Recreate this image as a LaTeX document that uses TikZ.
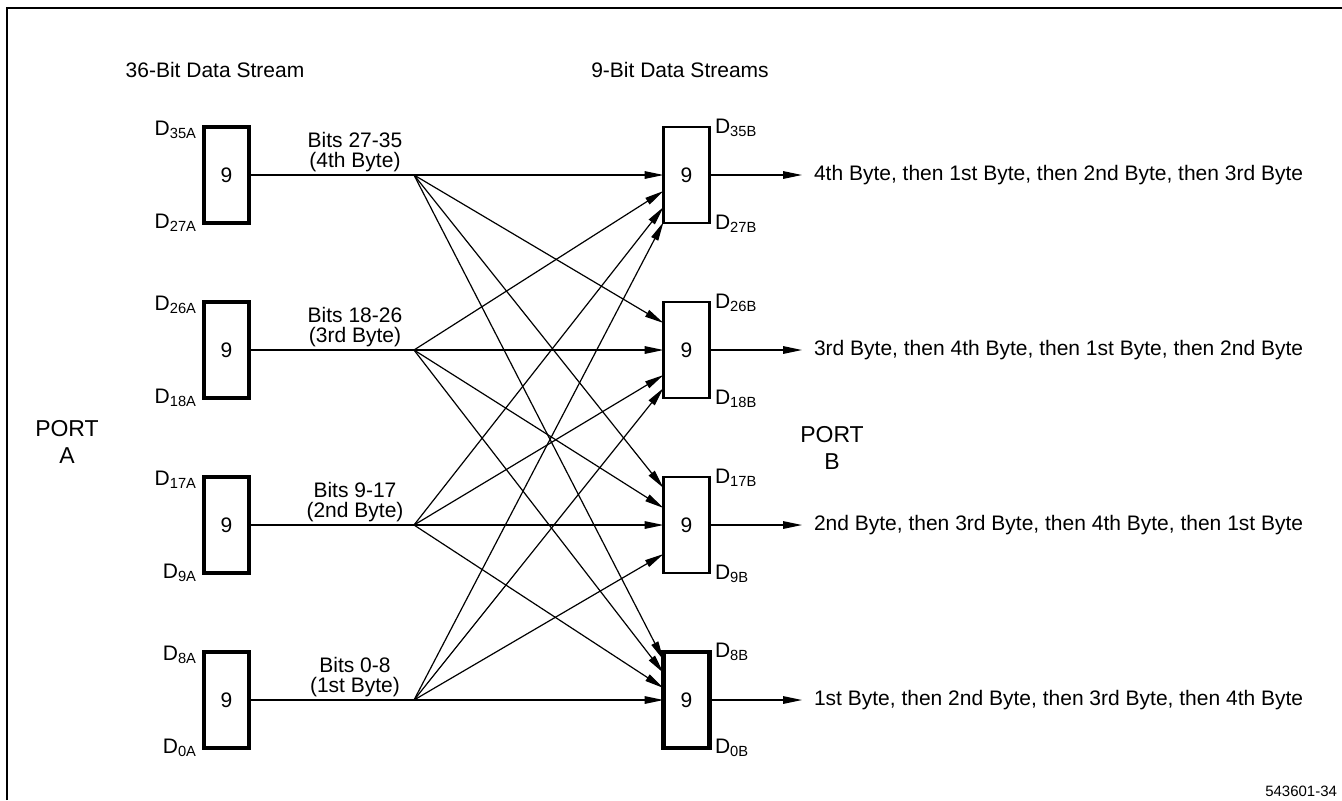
\documentclass[tikz,border=0pt]{standalone}
\usepackage{fontspec}
\setmainfont{Liberation Sans}
\usetikzlibrary{arrows.meta}
\begin{document}
\begin{tikzpicture}[x=0.5pt,y=-0.5pt,
  font=\fontsize{10.5}{13}\selectfont,
  every node/.style={inner sep=0pt, outer sep=0pt},
  lbox/.style={draw, line width=2.25pt, minimum width=22.5pt, minimum height=48pt},
  rbox/.style={draw, line width=1.2pt, minimum width=23pt, minimum height=48pt},
  rboxthick/.style={draw, line width=2.25pt, minimum width=23pt, minimum height=48pt},
  wire/.style={line width=0.6pt},
  arr/.style={line width=0.6pt, -{Triangle[length=9.5pt,width=3.8pt]}},
  dl/.style={anchor=base east},
  dr/.style={anchor=base west},
  bits/.style={align=center, font=\fontsize{10.5}{10}\selectfont},
  port/.style={align=center, font=\fontsize{11.5}{13.8}\selectfont},
  outtxt/.style={anchor=west}
]
\useasboundingbox (0,0) rectangle (1342,800);
% frame
\draw[line width=0.75pt] (7,800) -- (7,8) -- (1342,8);

% titles
\node (t1) at (215,70) {36-Bit Data Stream};
\node (t2) at (680,70) {9-Bit Data Streams};

% left boxes
\node[lbox] (a1) at (226.5,175) {9};
\node[lbox] (a2) at (226.5,350) {9};
\node[lbox] (a3) at (226.5,525) {9};
\node[lbox] (a4) at (226.5,700) {9};

% right boxes
\node[rbox] (b1) at (686.5,175) {9};
\node[rbox] (b2) at (686.5,350) {9};
\node[rbox] (b3) at (686.5,525) {9};
\node[rboxthick] (b4) at (686.5,700) {9};

% left D labels
\node[dl] (la1t) at (197,135) {D\textsubscript{35A}};
\node[dl] (la1b) at (197,228) {D\textsubscript{27A}};
\node[dl] (la2t) at (197,310) {D\textsubscript{26A}};
\node[dl] (la2b) at (197,403) {D\textsubscript{18A}};
\node[dl] (la3t) at (197,485) {D\textsubscript{17A}};
\node[dl] (la3b) at (197,578) {D\textsubscript{9A}};
\node[dl] (la4t) at (197,660) {D\textsubscript{8A}};
\node[dl] (la4b) at (197,753) {D\textsubscript{0A}};

% right D labels
\node[dr] (lb1t) at (715,133) {D\textsubscript{35B}};
\node[dr] (lb1b) at (715,229) {D\textsubscript{27B}};
\node[dr] (lb2t) at (715,308) {D\textsubscript{26B}};
\node[dr] (lb2b) at (715,404) {D\textsubscript{18B}};
\node[dr] (lb3t) at (715,483) {D\textsubscript{17B}};
\node[dr] (lb3b) at (715,579) {D\textsubscript{9B}};
\node[dr] (lb4t) at (715,657) {D\textsubscript{8B}};
\node[dr] (lb4b) at (715,753) {D\textsubscript{0B}};

% bits labels
\node[bits, anchor=south] (bl1) at (355,172) {Bits 27-35\\(4th Byte)};
\node[bits, anchor=south] (bl2) at (355,347) {Bits 18-26\\(3rd Byte)};
\node[bits, anchor=south] (bl3) at (355,522) {Bits 9-17\\(2nd Byte)};
\node[bits, anchor=south] (bl4) at (355,697) {Bits 0-8\\(1st Byte)};

% ports
\node[port] (pa) at (67,442) {PORT\\A};
\node[port] (pb) at (832,448) {PORT\\B};

% fan points
\coordinate (f1) at (414,175);
\coordinate (f2) at (414,350);
\coordinate (f3) at (414,525);
\coordinate (f4) at (414,700);

\draw[wire] (a1.east) -- (f1);
\draw[wire] (a2.east) -- (f2);
\draw[wire] (a3.east) -- (f3);
\draw[wire] (a4.east) -- (f4);

% to b1
\draw[arr] (f1) -- (b1.west);
\draw[arr] (f2) -- ([shift={(0,16)}]b1.west);
\draw[arr] (f3) -- ([shift={(0,32)}]b1.west);
\draw[arr] (f4) -- ([shift={(0,47)}]b1.west);
% to b2
\draw[arr] (f1) -- ([shift={(0,-27)}]b2.west);
\draw[arr] (f2) -- (b2.west);
\draw[arr] (f3) -- ([shift={(0,25)}]b2.west);
\draw[arr] (f4) -- ([shift={(0,38)}]b2.west);
% to b3
\draw[arr] (f1) -- ([shift={(0,-37)}]b3.west);
\draw[arr] (f2) -- ([shift={(0,-17)}]b3.west);
\draw[arr] (f3) -- (b3.west);
\draw[arr] (f4) -- ([shift={(0,29)}]b3.west);
% to b4
\draw[arr] (f1) -- ([shift={(0,-40)}]b4.west);
\draw[arr] (f2) -- ([shift={(0,-27)}]b4.west);
\draw[arr] (f3) -- ([shift={(0,-12)}]b4.west);
\draw[arr] (f4) -- (b4.west);

% outputs
\coordinate (o1) at (802,175);
\coordinate (o2) at (802,350);
\coordinate (o3) at (802,525);
\coordinate (o4) at (802,700);
\draw[arr] (b1.east) -- (o1);
\draw[arr] (b2.east) -- (o2);
\draw[arr] (b3.east) -- (o3);
\draw[arr] (b4.east) -- (o4);
\node[outtxt] (x1) at (814,175) {4th Byte, then 1st Byte, then 2nd Byte, then 3rd Byte};
\node[outtxt] (x2) at (814,350) {3rd Byte, then 4th Byte, then 1st Byte, then 2nd Byte};
\node[outtxt] (x3) at (814,525) {2nd Byte, then 3rd Byte, then 4th Byte, then 1st Byte};
\node[outtxt] (x4) at (814,700) {1st Byte, then 2nd Byte, then 3rd Byte, then 4th Byte};

% figure code
\node[anchor=base east, font=\fontsize{7.5}{9}\selectfont] (code) at (1337,796) {543601-34};
\end{tikzpicture}
\end{document}
